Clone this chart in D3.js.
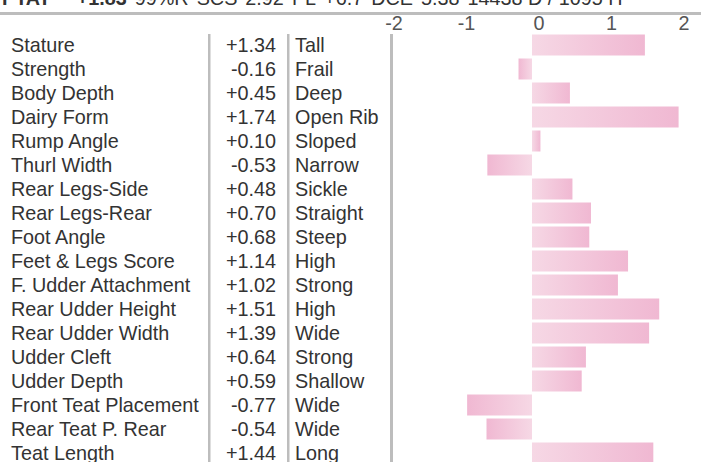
<!DOCTYPE html>
<html><head><meta charset="utf-8">
<script src="https://cdn.jsdelivr.net/npm/d3@7"></script>
<style>
html,body{margin:0;padding:0;background:#fff;overflow:hidden;}
svg{display:block;font-family:"Liberation Sans",Arial,sans-serif;}
</style></head>
<body>
<svg id="c" width="701" height="462"></svg>
<script>
const traits = ["Stature","Strength","Body Depth","Dairy Form","Rump Angle","Thurl Width","Rear Legs-Side","Rear Legs-Rear","Foot Angle","Feet & Legs Score","F. Udder Attachment","Rear Udder Height","Rear Udder Width","Udder Cleft","Udder Depth","Front Teat Placement","Rear Teat P. Rear","Teat Length"];
const values = [1.34,-0.16,0.45,1.74,0.10,-0.53,0.48,0.70,0.68,1.14,1.02,1.51,1.39,0.64,0.59,-0.77,-0.54,1.44];
const descriptors = ["Tall","Frail","Deep","Open Rib","Sloped","Narrow","Sickle","Straight","Steep","High","Strong","High","Wide","Strong","Shallow","Wide","Wide","Long"];
const tickValues = [-2,-1,0,1,2];
const headerParts = [["PTAT",true],["+1.83",true],["99%R",false],["SCS",false],["2.92",false],["PL",false],["+6.7",false],["DCE",false],["5.38",false],["14438 D / 1095 H",false]];

const svg = d3.select("#c");
const W = 701, H = 462;
const FS = 19.8;
const textColor = "#333";
const gridColor = "#bdbdbd";

// header (clipped at top, as in the reference)
const ht = svg.append("text").attr("x",2).attr("y",5).attr("font-size",FS).attr("fill",textColor);
headerParts.forEach((p,i)=>{
  ht.append("tspan").attr("dx", i===0?0:(i===1?26:8)).attr("font-weight",p[1]?"bold":"normal").text(p[0]);
});
svg.append("rect").attr("x",0).attr("y",12).attr("width",W).attr("height",3).attr("fill",gridColor);

// scales
const y = d3.scaleBand().domain(traits).range([33, 33+traits.length*24]).paddingInner(0.125).paddingOuter(0.0625);
const x = d3.scaleLinear().domain([-2,2]).range([363.5,700.5]);
const xt = d3.scaleLinear().domain([-2,2]).range([394,684]);

// tick labels
svg.append("g").selectAll("text").data(tickValues).join("text")
  .attr("x",d=>xt(d)).attr("y",30).attr("text-anchor","middle")
  .attr("font-size",FS).attr("fill","#555").text(d=>d);

// separators
[[208,2.5],[287,2.5],[390,3]].forEach(([sx,w])=>{
  svg.append("rect").attr("x",sx).attr("y",34).attr("width",w).attr("height",H-34).attr("fill",gridColor);
});

// gradients
const defs = svg.append("defs");
const gp = defs.append("linearGradient").attr("id","gpos").attr("x1","0").attr("x2","1").attr("y1","0").attr("y2","0");
gp.append("stop").attr("offset","0").attr("stop-color","#f6d8e5");
gp.append("stop").attr("offset","1").attr("stop-color","#f0b8d2");
const gn = defs.append("linearGradient").attr("id","gneg").attr("x1","0").attr("x2","1").attr("y1","0").attr("y2","0");
gn.append("stop").attr("offset","0").attr("stop-color","#f0b8d2");
gn.append("stop").attr("offset","1").attr("stop-color","#f6d8e5");

const rows = traits.map((t,i)=>({t, v:values[i], d:descriptors[i]}));

svg.append("g").selectAll("rect").data(rows).join("rect")
  .attr("x",d=>x(Math.min(0,d.v)))
  .attr("width",d=>Math.abs(x(d.v)-x(0)))
  .attr("y",d=>y(d.t)).attr("height",y.bandwidth())
  .attr("fill",d=>d.v>=0?"url(#gpos)":"url(#gneg)");

const cy = d=>y(d.t)+y.bandwidth()/2+7;
const g = svg.append("g").attr("font-size",FS).attr("fill",textColor);
g.selectAll("text.l").data(rows).join("text").attr("class","l")
  .attr("x",11).attr("y",cy).text(d=>d.t);
g.selectAll("text.v").data(rows).join("text").attr("class","v")
  .attr("x",276).attr("y",cy).attr("text-anchor","end")
  .text(d=>(d.v>=0?"+":"")+d.v.toFixed(2));
g.selectAll("text.d").data(rows).join("text").attr("class","d")
  .attr("x",295).attr("y",cy).text(d=>d.d);
</script>
</body></html>
